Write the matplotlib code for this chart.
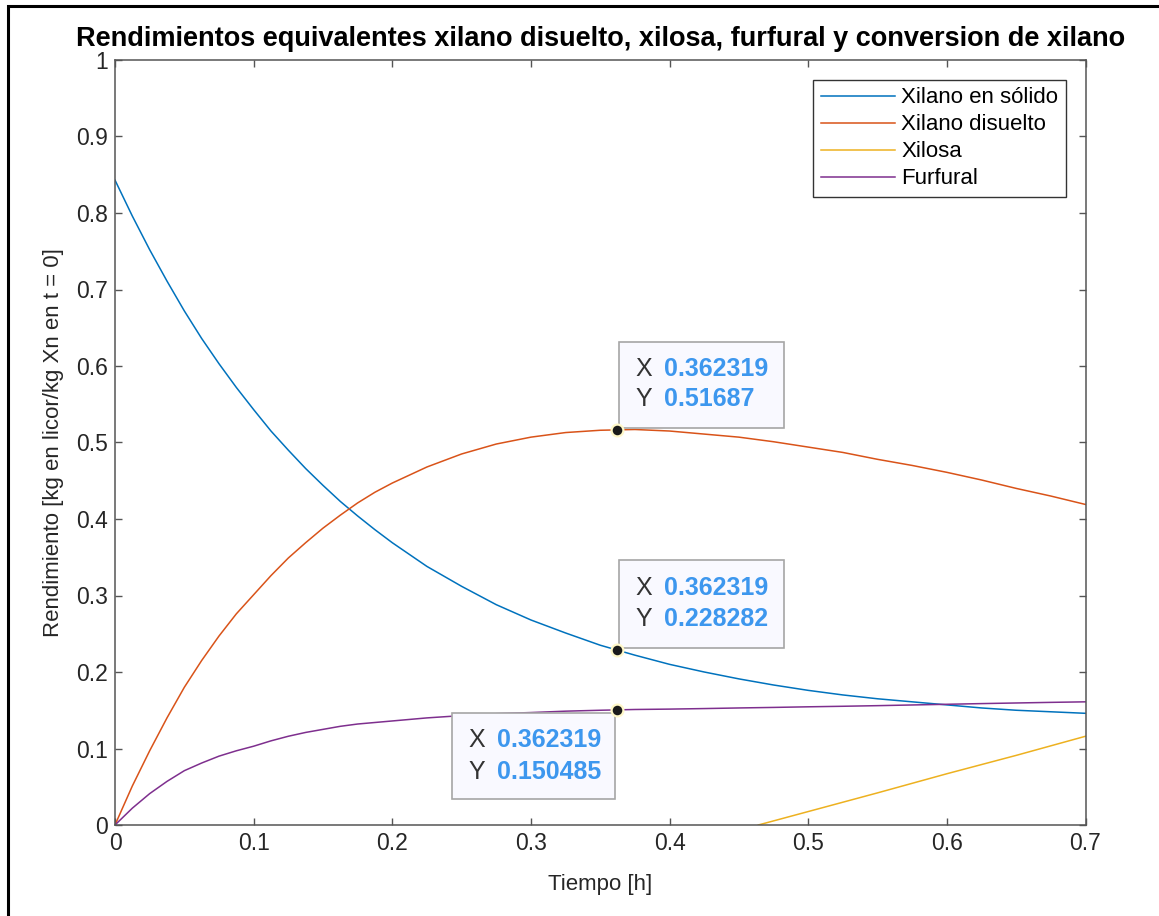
import matplotlib
matplotlib.use("Agg")
import matplotlib.pyplot as plt
from matplotlib import transforms as mtransforms
from matplotlib.patches import Rectangle

plt.rcParams['font.family'] = ['Liberation Sans', 'DejaVu Sans']

# ---------------- data ----------------
tiempo = [0.0000, 0.0125, 0.0250, 0.0375, 0.0500, 0.0625, 0.0750, 0.0875, 0.1000, 0.1125,
          0.1250, 0.1375, 0.1500, 0.1625, 0.1750, 0.1875, 0.2000, 0.225,
          0.250, 0.275, 0.300, 0.325, 0.350, 0.375, 0.400, 0.425, 0.450, 0.475,
          0.500, 0.525, 0.550, 0.575, 0.600, 0.625, 0.650, 0.675, 0.700]

xilano_solido = [0.843, 0.796, 0.752, 0.711, 0.672, 0.636, 0.603, 0.572, 0.543, 0.515,
                 0.490, 0.466, 0.444, 0.423, 0.404, 0.386, 0.369, 0.338,
                 0.312, 0.288, 0.268, 0.251, 0.235, 0.222, 0.210, 0.200, 0.191, 0.183,
                 0.176, 0.170, 0.165, 0.161, 0.157, 0.153, 0.150, 0.148, 0.146]

xilano_disuelto = [0.000, 0.051, 0.097, 0.140, 0.180, 0.215, 0.247, 0.276, 0.301, 0.326,
                   0.349, 0.369, 0.388, 0.405, 0.421, 0.435, 0.447, 0.468,
                   0.485, 0.498, 0.507, 0.513, 0.516, 0.517, 0.515, 0.511, 0.507, 0.501,
                   0.494, 0.487, 0.478, 0.470, 0.461, 0.451, 0.440, 0.430, 0.419]

furfural = [0.000, 0.022, 0.041, 0.057, 0.071, 0.081, 0.090, 0.097, 0.103, 0.110,
            0.116, 0.121, 0.125, 0.129, 0.132, 0.134, 0.136, 0.140,
            0.143, 0.1455, 0.147, 0.1488, 0.1500, 0.1510, 0.1515, 0.1522, 0.1530, 0.1537,
            0.1545, 0.1552, 0.1560, 0.1569, 0.1578, 0.1587, 0.1595, 0.1603, 0.1610]

tiempo_xilosa = [0.464, 0.550, 0.600, 0.650, 0.700]
xilosa = [0.000, 0.042, 0.067, 0.091, 0.116]

series_labels = ["Xilano en sólido", "Xilano disuelto", "Xilosa", "Furfural"]
series_colors = ["#0072BD", "#D95319", "#EDB120", "#7E2F8E"]

# data tips
tip_x = [0.362319, 0.362319, 0.362319]
tip_y = [0.51687, 0.228282, 0.150485]
tip_text_x = ["0.362319", "0.362319", "0.362319"]
tip_text_y = ["0.51687", "0.228282", "0.150485"]

xticks = [0, 0.1, 0.2, 0.3, 0.4, 0.5, 0.6, 0.7]
xticklabels = ["0", "0.1", "0.2", "0.3", "0.4", "0.5", "0.6", "0.7"]
yticks = [0, 0.1, 0.2, 0.3, 0.4, 0.5, 0.6, 0.7, 0.8, 0.9, 1.0]
yticklabels = ["0", "0.1", "0.2", "0.3", "0.4", "0.5", "0.6", "0.7", "0.8", "0.9", "1"]

# ---------------- figure ----------------
W, H = 1159, 916
fig = plt.figure(figsize=(W / 100, H / 100), dpi=100)
fig.patch.set_facecolor("white")

# outer frame (only left and top edges visible in the reference)
fig.patches.append(Rectangle((8 / W, -0.1), 1.2, 1 - 6 / H + 0.1, transform=fig.transFigure,
                             fill=False, edgecolor="black", linewidth=2.2, clip_on=False))

ax = fig.add_axes([115 / W, 1 - 825 / H, 970.5 / W, 765 / H])

axis_col = "#555555"
ax.plot(tiempo, xilano_solido, color=series_colors[0], lw=1.1, label=series_labels[0])
ax.plot(tiempo, xilano_disuelto, color=series_colors[1], lw=1.1, label=series_labels[1])
ax.plot(tiempo_xilosa, xilosa, color=series_colors[2], lw=1.1, label=series_labels[2])
ax.plot(tiempo, furfural, color=series_colors[3], lw=1.1, label=series_labels[3])

ax.set_xlim(0, 0.7)
ax.set_ylim(0, 1)
ax.set_xticks(xticks)
ax.set_xticklabels(xticklabels)
ax.set_yticks(yticks)
ax.set_yticklabels(yticklabels)
ax.tick_params(direction="in", length=5, width=1.0, color=axis_col, labelcolor="#262626",
               labelsize=16.5, top=True, right=True, pad=5)
for s in ax.spines.values():
    s.set_color(axis_col)
    s.set_linewidth(1.1)

ax.set_title("Rendimientos equivalentes xilano disuelto, xilosa, furfural y conversion de xilano",
             fontsize=19.5, fontweight="bold", pad=10, color="black")
ax.set_xlabel("Tiempo [h]", fontsize=16, color="#262626", labelpad=14)
ax.set_ylabel("Rendimiento [kg en licor/kg Xn en t = 0]", fontsize=16, color="#262626", labelpad=9)

leg = ax.legend(loc="upper right", fontsize=16, frameon=True, fancybox=False,
                edgecolor="#333333", framealpha=1, borderaxespad=0.88,
                handlelength=3.3, handletextpad=0.3, labelspacing=0.27, borderpad=0.35)
leg.get_frame().set_linewidth(1.0)

# ---------------- data tips ----------------
tip_layout = [
    dict(box=(2, 2, 165, 86), xlab=18, val=47, row1=61, row2=31),
    dict(box=(2, 2, 165, 88), xlab=18, val=47, row1=62, row2=31),
    dict(box=(-165, -89, 163, 86), xlab=-149, val=-120, row1=-30, row2=-62),
]
tip_blue = "#3d97ee"
for i in range(3):
    tr = mtransforms.ScaledTranslation(tip_x[i], tip_y[i], ax.transData)
    lay = tip_layout[i]
    bx, by, bw, bh = lay["box"]
    ax.add_patch(Rectangle((bx, by), bw, bh, transform=tr, facecolor="#f9f9ff",
                           edgecolor="#a6a6a6", linewidth=1.2, zorder=5, clip_on=False))
    ax.text(lay["xlab"], lay["row1"], "X", transform=tr, fontsize=18, color="#333333",
            va="center", ha="left", zorder=6)
    ax.text(lay["xlab"], lay["row2"], "Y", transform=tr, fontsize=18, color="#333333",
            va="center", ha="left", zorder=6)
    ax.text(lay["val"], lay["row1"], tip_text_x[i], transform=tr, fontsize=18, color=tip_blue,
            fontweight="bold", va="center", ha="left", zorder=6)
    ax.text(lay["val"], lay["row2"], tip_text_y[i], transform=tr, fontsize=18, color=tip_blue,
            fontweight="bold", va="center", ha="left", zorder=6)
    ax.plot([tip_x[i]], [tip_y[i]], marker="o", ms=8.5, mfc="#1a1a1a", mec="#fff8c8",
            mew=1.6, zorder=7, clip_on=False)

fig.savefig("out.png", dpi=100, facecolor="white")
